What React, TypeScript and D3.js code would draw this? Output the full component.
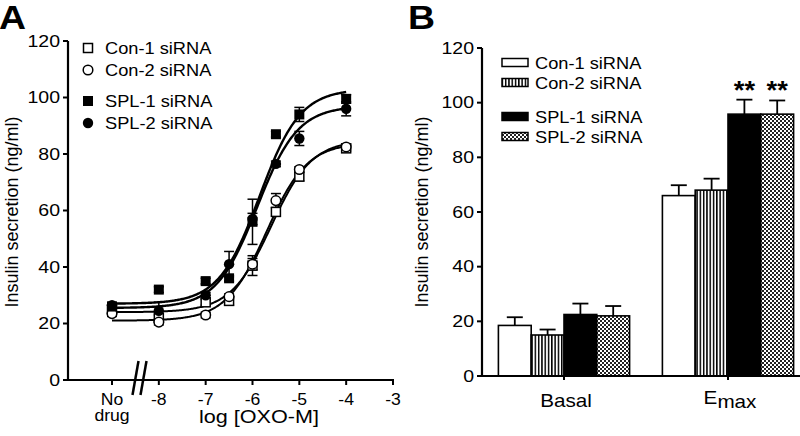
import React from 'react';
import * as d3 from 'd3';

// ---------- Panel A data ----------
const seriesNames = ['Con-1 siRNA', 'Con-2 siRNA', 'SPL-1 siRNA', 'SPL-2 siRNA'];
const logDose = [-9, -8, -7, -6.5, -6, -5.5, -5, -4];
const con1Mean = [25, 22, 27.5, 28, 40.5, 59.5, 72, 82];
const con1Err = [1, 1, 1, 1.5, 3.5, 1.5, 1.5, 1];
const con2Mean = [23.5, 20.5, 23, 29.5, 41, 63.5, 74.5, 82.5];
const con2Err = [1, 1, 1, 1, 2, 2.5, 1, 1];
const spl1Mean = [26, 32, 35, 36, 56, 87, 94, 99.5];
const spl1Err = [1, 1, 1, 1, 8, 1, 2.5, 1.5];
const spl2Mean = [26.5, 24.5, 30, 41, 57, 76.5, 85.5, 96];
const spl2Err = [1, 3, 1, 4.5, 2, 1, 2.5, 2.5];
const fitBottom = [24, 21, 27, 25.5];
const fitTop = [85, 84, 103, 97];
const fitLogEC50 = [-5.6, -5.7, -5.85, -5.9];
const doseTicks = [-9, -8, -7, -6, -5, -4, -3];
const doseTickLabels = ['No|drug', '-8', '-7', '-6', '-5', '-4', '-3'];
const yTicks = [0, 20, 40, 60, 80, 100, 120];

// ---------- Panel B data ----------
const groups = ['Basal', 'Emax'];
const barCon1 = [18.5, 66];
const barCon1Err = [3, 3.8];
const barCon2 = [15, 68];
const barCon2Err = [2, 4.2];
const barSpl1 = [22.5, 95.8];
const barSpl1Err = [4, 5.3];
const barSpl2 = [22, 95.8];
const barSpl2Err = [3.6, 5];
const significance = ['', '', '**', '**'];

const FONT = '"Liberation Sans", Arial, Helvetica, sans-serif';

type TProps = {
  x: number;
  y: number;
  size: number;
  sx?: number;
  anchor?: 'start' | 'middle' | 'end';
  weight?: string;
  children: React.ReactNode;
};
// horizontally-stretched text (the reference glyphs are wider than the font)
const T = ({ x, y, size, sx = 1.14, anchor = 'start', weight = 'normal', children }: TProps) => (
  <text transform={`translate(${x},${y}) scale(${sx},1)`} fontSize={size} textAnchor={anchor} fontWeight={weight}>
    {children}
  </text>
);

export default function App() {
  // Panel A scales
  const xA = d3.scaleLinear().domain([-9, -3]).range([112, 393]);
  const yA = d3.scaleLinear().domain([0, 120]).range([380, 41]);
  const means = [con1Mean, con2Mean, spl1Mean, spl2Mean];
  const errs = [con1Err, con2Err, spl1Err, spl2Err];
  const curveX = d3.range(-9, -3.999, 0.02);

  const fitPath = (s: number) =>
    d3
      .line<number>()
      .x((d) => xA(d))
      .y((d) => yA(fitBottom[s] + (fitTop[s] - fitBottom[s]) / (1 + Math.pow(10, fitLogEC50[s] - d))))(curveX) || '';

  const marker = (s: number, cx: number, cy: number, key: string) => {
    if (s === 0)
      return <rect key={key} x={cx - 4.5} y={cy - 4.5} width={9} height={9} fill="white" stroke="black" strokeWidth={1.5} />;
    if (s === 1) return <circle key={key} cx={cx} cy={cy} r={4.8} fill="white" stroke="black" strokeWidth={1.5} />;
    if (s === 2) return <rect key={key} x={cx - 5} y={cy - 5} width={10} height={10} fill="black" />;
    return <circle key={key} cx={cx} cy={cy} r={5.2} fill="black" />;
  };

  // Panel B scales
  const xB = d3.scaleBand().domain(groups).range([482, 810]).paddingInner(0.2).paddingOuter(0.1);
  const xSub = d3.scaleBand().domain(seriesNames).range([0, xB.bandwidth()]);
  const yB = d3.scaleLinear().domain([0, 120]).range([376, 48]);
  const barVals = [barCon1, barCon2, barSpl1, barSpl2];
  const barErrs = [barCon1Err, barCon2Err, barSpl1Err, barSpl2Err];
  const fills = ['white', 'url(#stripes)', 'black', 'url(#checker)'];

  const legendAY = [48, 70, 101, 123];
  const legendBY = [62.5, 82.5, 116.5, 136.5];

  return (
    <svg width={800} height={436} style={{ position: 'absolute', left: 0, top: 0, background: 'white' }} fontFamily={FONT}>
      <defs>
        <pattern id="stripes" width={3.3} height={4} patternUnits="userSpaceOnUse">
          <rect width={3.3} height={4} fill="white" />
          <rect x={0} width={1.5} height={4} fill="black" />
        </pattern>
        <pattern id="checker" width={4} height={4} patternUnits="userSpaceOnUse">
          <rect width={4} height={4} fill="white" />
          <rect x={0} y={0} width={2} height={2} fill="#222" />
          <rect x={2} y={2} width={2} height={2} fill="#222" />
        </pattern>
      </defs>
      <rect width={800} height={436} fill="white" />

      {/* ===== Panel A ===== */}
      <T x={-1} y={29} size={34} sx={1.1} weight="bold">A</T>
      {/* axes */}
      <line x1={68} x2={68} y1={yA(120)} y2={yA(0) + 1} stroke="black" strokeWidth={2.2} />
      <line x1={67} x2={xA(-3) + 1} y1={yA(0)} y2={yA(0)} stroke="black" strokeWidth={2.2} />
      {yTicks.map((t) => (
        <g key={'ya' + t}>
          <line x1={63} x2={68} y1={yA(t)} y2={yA(t)} stroke="black" strokeWidth={2} />
          <T x={60} y={yA(t) + 5.5} size={16} sx={1.22} anchor="end">{t}</T>
        </g>
      ))}
      {doseTicks.map((t, i) => (
        <g key={'xa' + t}>
          <line x1={xA(t)} x2={xA(t)} y1={yA(0)} y2={yA(0) + 5} stroke="black" strokeWidth={2} />
          {doseTickLabels[i].split('|').map((l, j) => (
            <T key={j} x={xA(t)} y={404.5 + j * 16} size={16} sx={1.1} anchor="middle">{l}</T>
          ))}
        </g>
      ))}
      {/* break marks */}
      <line x1={132.5} y1={395} x2={138.5} y2={361} stroke="black" strokeWidth={2.5} />
      <line x1={140.5} y1={395} x2={146.5} y2={361} stroke="black" strokeWidth={2.5} />
      <T x={259} y={423} size={18} sx={1.2} anchor="middle">log [OXO-M]</T>
      <text transform="translate(18,212) rotate(-90)" fontSize={18} textAnchor="middle">Insulin secretion (ng/ml)</text>

      {/* fitted curves */}
      {[0, 1, 2, 3].map((s) => (
        <path key={'fit' + s} d={fitPath(s)} fill="none" stroke="black" strokeWidth={s >= 2 ? 2.4 : 2} />
      ))}
      {/* error bars */}
      {means.map((m, s) =>
        m.map((v, i) => {
          const cx = xA(logDose[i]);
          const e = errs[s][i];
          return (
            <g key={'eb' + s + '-' + i} stroke="black" strokeWidth={1.5}>
              <line x1={cx} x2={cx} y1={yA(v - e)} y2={yA(v + e)} />
              <line x1={cx - 5} x2={cx + 5} y1={yA(v + e)} y2={yA(v + e)} />
              <line x1={cx - 5} x2={cx + 5} y1={yA(v - e)} y2={yA(v - e)} />
            </g>
          );
        })
      )}
      {/* markers */}
      {means.map((m, s) => m.map((v, i) => marker(s, xA(logDose[i]), yA(v), 'mk' + s + '-' + i)))}
      {/* legend A */}
      {seriesNames.map((n, s) => (
        <g key={'lga' + s}>
          {marker(s, 88, legendAY[s], 'lgm' + s)}
          <T x={105} y={legendAY[s] + 6} size={16}>{n}</T>
        </g>
      ))}

      {/* ===== Panel B ===== */}
      <T x={408} y={29} size={34} sx={1.1} weight="bold">B</T>
      {groups.map((g, gi) =>
        seriesNames.map((n, s) => {
          const x0 = (xB(g) || 0) + (xSub(n) || 0);
          const w = xSub.bandwidth();
          const v = barVals[s][gi];
          const e = barErrs[s][gi];
          const cx = x0 + w / 2;
          return (
            <g key={'bar' + gi + s}>
              <line x1={cx} x2={cx} y1={yB(v)} y2={yB(v + e)} stroke="black" strokeWidth={1.8} />
              <line x1={cx - 8} x2={cx + 8} y1={yB(v + e)} y2={yB(v + e)} stroke="black" strokeWidth={1.8} />
              <rect x={x0} y={yB(v)} width={w} height={yB(0) - yB(v)} fill={fills[s]} stroke="black" strokeWidth={1.6} />
              {gi === 1 && significance[s] && (
                <T x={cx} y={yB(v + e) - 1} size={26} sx={1.05} weight="bold" anchor="middle">{significance[s]}</T>
              )}
            </g>
          );
        })
      )}
      <line x1={482} x2={482} y1={yB(120)} y2={yB(0) + 1} stroke="black" strokeWidth={2.2} />
      <line x1={481} x2={800} y1={yB(0)} y2={yB(0)} stroke="black" strokeWidth={2.2} />
      {yTicks.map((t) => (
        <g key={'yb' + t}>
          <line x1={477} x2={482} y1={yB(t)} y2={yB(t)} stroke="black" strokeWidth={2} />
          <T x={474} y={yB(t) + 5.5} size={16} sx={1.22} anchor="end">{t}</T>
        </g>
      ))}
      {groups.map((g) => {
        const cx = (xB(g) || 0) + xB.bandwidth() / 2;
        return (
          <g key={'xb' + g}>
            <line x1={cx} x2={cx} y1={yB(0)} y2={yB(0) + 4} stroke="black" strokeWidth={2} />
            {g === 'Emax' ? (
              <T x={cx + 2} y={408} size={18} sx={1.15} anchor="middle">
                <tspan dy={-4}>E</tspan>
                <tspan dy={4}>max</tspan>
              </T>
            ) : (
              <T x={cx + 2} y={407} size={18} sx={1.15} anchor="middle">{g}</T>
            )}
          </g>
        );
      })}
      <text transform="translate(428,212) rotate(-90)" fontSize={18} textAnchor="middle">Insulin secretion (ng/ml)</text>
      {/* legend B */}
      {seriesNames.map((n, s) => (
        <g key={'lgb' + s}>
          <rect x={502} y={legendBY[s] - 4} width={26} height={8} fill={fills[s]} stroke="black" strokeWidth={1.5} />
          <T x={535} y={legendBY[s] + 6} size={16}>{n}</T>
        </g>
      ))}
    </svg>
  );
}
